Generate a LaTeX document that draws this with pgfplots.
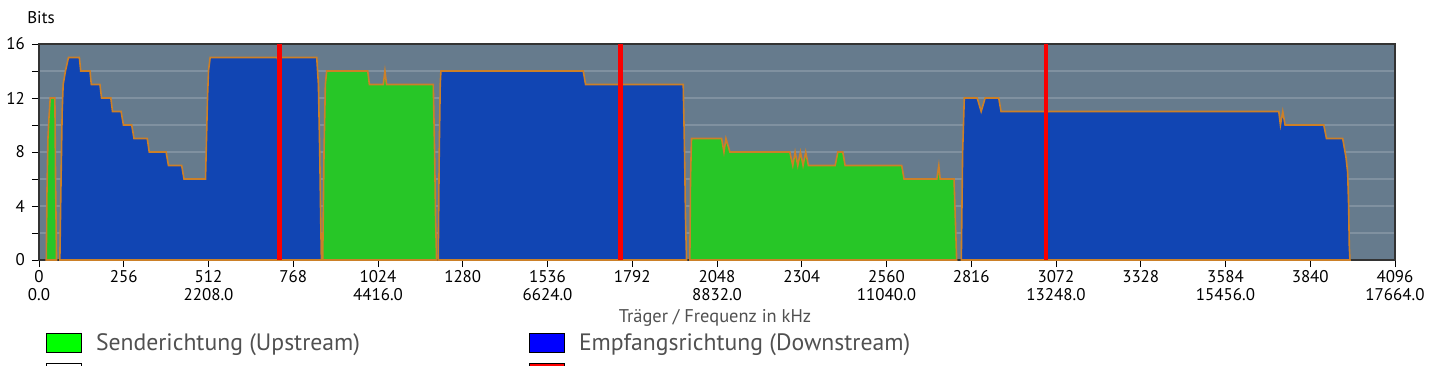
\documentclass[border=0pt]{standalone}
\usepackage{pgfplots}
\pgfplotsset{compat=1.18}
\usepackage{fontspec}
\setmainfont{PT Sans}
\definecolor{bgcol}{RGB}{102,123,141}
\definecolor{gridcol}{RGB}{128,145,160}
\definecolor{dsblue}{RGB}{17,69,179}
\definecolor{usgreen}{RGB}{39,198,39}
\definecolor{edgeor}{RGB}{204,128,40}
\definecolor{pilotred}{RGB}{250,0,0}
\definecolor{leggray}{RGB}{80,80,80}
\begin{document}
\begin{tikzpicture}
\path[use as bounding box] (-39bp,-106bp) rectangle (1401bp,260bp);
\begin{axis}[
  at={(0,0)}, anchor=south west,
  scale only axis, width=1356bp, height=216bp,
  xmin=0, xmax=4096, ymin=0, ymax=16,
  enlargelimits=false,
  axis background/.style={fill=bgcol},
  axis line style={draw=black!80, line width=1.5bp},
  tick align=outside, tick pos=left,
  major tick length=7bp, minor tick length=7bp,
  tick style={black, line width=0.8bp},
  xtick={0,256,...,4096},
  xticklabels={{0\\0.0},256,{512\\2208.0},768,{1024\\4416.0},1280,{1536\\6624.0},1792,{2048\\8832.0},2304,{2560\\11040.0},2816,{3072\\13248.0},3328,{3584\\15456.0},3840,{4096\\17664.0}},
  xticklabel style={align=center, anchor=north, font=\fontsize{17}{18.5}\selectfont, inner sep=0pt, yshift=-3bp},
  ytick={0,4,...,16},
  minor ytick={2,6,10,14},
  ymajorgrids, yminorgrids,
  major grid style={gridcol, line width=1.1bp},
  minor grid style={gridcol, line width=1.1bp},
  /pgf/number format/assume math mode=true,
  yticklabel style={font=\fontsize{17}{19}\selectfont, inner sep=0pt, xshift=-7bp, anchor=east},
  ylabel={Bits},
  every axis y label/.style={at={(axis description cs:0,1)}, anchor=base, xshift=2bp, yshift=20bp, font=\fontsize{17}{19}\selectfont},
  xlabel={Träger / Frequenz in kHz},
  every axis x label/.style={at={(axis description cs:0.5,0)}, anchor=base, xshift=-2bp, yshift=-62bp, font=\fontsize{18.5}{20}\selectfont, text=leggray},
  legend columns=2,
  legend image code/.code={\draw[#1,draw=black,line width=1bp] (0bp,-9.5bp) rectangle (35bp,9.5bp);},
  legend style={at={(axis description cs:0,0)}, anchor=north west, xshift=7bp, yshift=-73bp,
    draw=none, fill=none, inner sep=0pt, outer sep=0pt,
    font=\fontsize{23.8}{26}\selectfont, text=leggray, row sep=10bp,
    /tikz/every odd column/.style={column sep=14bp},
    nodes={inner sep=0pt, anchor=west}},
]
% Upstream (green)
\addplot[forget plot, fill=usgreen, draw=edgeor, line width=1.6bp] coordinates {
(22,0) (24,5) (27,9) (30,10.5) (34,12) (48,12) (50,6) (53,0)} \closedcycle;
\addplot[forget plot, fill=usgreen, draw=edgeor, line width=1.6bp] coordinates {
(857,0) (861,8) (865,13) (869,14) (993,14) (998,13) (1040,13) (1045,14) (1050,13) (1191,13) (1195,8) (1198,3) (1201,0)} \closedcycle;
\addplot[forget plot, fill=usgreen, draw=edgeor, line width=1.6bp] coordinates {
(1966,0) (1968,6) (1971,9) (2062,9) (2069,8) (2075,9) (2087,8) (2268,8) (2277,7) (2284,8) (2292,7) (2300,8) (2308,7) (2316,8) (2324,7) (2405,7) (2413,8) (2428,8) (2435,7) (2606,7) (2613,6) (2712,6) (2718,7) (2722,6) (2764,6) (2768,3) (2772,0)} \closedcycle;
% Downstream (blue)
\addplot[forget plot, fill=dsblue, draw=edgeor, line width=1.6bp] coordinates {
(63,0) (66,5) (70,11) (73,13) (80,14) (89,15) (122,15) (126,14) (154,14) (158,13) (184,13) (189,12) (217,12) (222,11) (248,11) (255,10) (280,10) (287,9) (327,9) (333,8) (384,8) (391,7) (431,7) (438,6) (503,6) (506,9) (509,12) (512,14) (517,15) (720,15) (724,14.5) (728,15) (839,15) (844,13) (848,8) (851,3) (853,0)} \closedcycle;
\addplot[forget plot, fill=dsblue, draw=edgeor, line width=1.6bp] coordinates {
(1206,0) (1209,8) (1212,13) (1214,14) (1644,14) (1651,13) (1752,13) (1756,12.5) (1760,13) (1946,13) (1950,8) (1953,3) (1956,0)} \closedcycle;
\addplot[forget plot, fill=dsblue, draw=edgeor, line width=1.6bp] coordinates {
(2786,0) (2790,8) (2795,12) (2834,12) (2846,11) (2858,12) (2899,12) (2906,11) (3038,11) (3042,10.5) (3046,11) (3745,11) (3750,10) (3757,11) (3764,10) (3881,10) (3889,9) (3938,9) (3943,8.3) (3948,7.6) (3953,6.5) (3956,4) (3958,1) (3960,0)} \closedcycle;
% Pilot tones (red)
\addplot[forget plot, pilotred, line width=4.5bp] coordinates {(726,0) (726,16)};
\addplot[forget plot, pilotred, line width=4.5bp] coordinates {(1756,0) (1756,16)};
\addplot[forget plot, pilotred, line width=4.5bp] coordinates {(3042,0) (3042,16)};
% Legend
\addlegendimage{fill={rgb,255:red,0;green,255;blue,0}}
\addlegendentry{\makebox[433bp][l]{Senderichtung (Upstream)}}
\addlegendimage{fill={rgb,255:red,0;green,0;blue,255}}
\addlegendentry{Empfangsrichtung (Downstream)}
\addlegendimage{fill=white}
\addlegendentry{\makebox[433bp][l]{}}
\addlegendimage{fill={rgb,255:red,255;green,0;blue,0}}
\addlegendentry{}
\end{axis}
\end{tikzpicture}
\end{document}
